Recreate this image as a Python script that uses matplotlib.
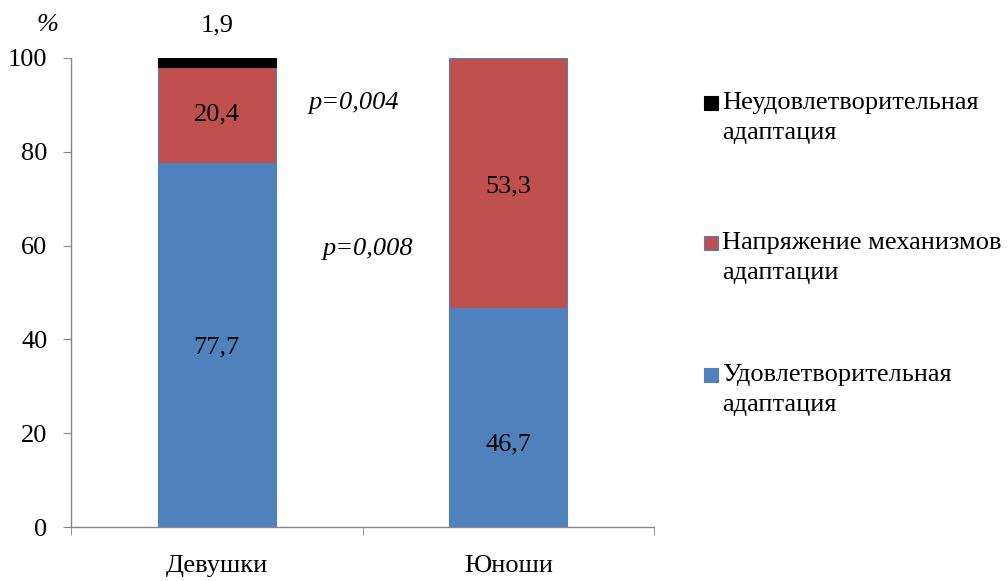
import matplotlib
matplotlib.use("Agg")
import matplotlib.pyplot as plt
from matplotlib.patches import Rectangle
import numpy as np

categories = ["Девушки", "Юноши"]
satisfactory = [77.7, 46.7]
tension = [20.4, 53.3]
unsatisfactory = [1.9, 0.0]
series_labels = [["Неудовлетворительная", "адаптация"],
                 ["Напряжение механизмов", "адаптации"],
                 ["Удовлетворительная", "адаптация"]]
yticks = [0, 20, 40, 60, 80, 100]

BLUE = "#4F81BD"
RED = "#C0504D"
BLACK = "#000000"
GRAY = "#868686"
FS = 19
plt.rcParams["font.family"] = ["Liberation Serif", "DejaVu Serif"]

W, H = 1008, 581
fig = plt.figure(figsize=(W / 100, H / 100), dpi=100)
ax = fig.add_axes([71 / W, 1 - 527 / H, (654 - 71) / W, (527 - 58) / H])

x = np.arange(len(categories))
bw = 0.405
ax.bar(x, satisfactory, bw, color=BLUE, edgecolor=BLUE, linewidth=0.8, zorder=2)
ax.bar(x, tension, bw, bottom=satisfactory, color=RED, edgecolor=BLUE, linewidth=0.8, zorder=2)
bottom3 = [a + b for a, b in zip(satisfactory, tension)]
ax.bar(x[:1], unsatisfactory[:1], bw, bottom=bottom3[:1], color=BLACK, edgecolor=BLACK,
       linewidth=0.8, zorder=2)

ax.set_xlim(-0.5, 1.5)
ax.set_ylim(0, 100)
for s in ["top", "right"]:
    ax.spines[s].set_visible(False)
for s in ["left", "bottom"]:
    ax.spines[s].set_color(GRAY)
    ax.spines[s].set_linewidth(1.0)

ax.set_yticks(yticks)
ax.set_yticklabels([str(v) for v in yticks], fontsize=FS)
ax.tick_params(axis="y", direction="out", length=6, color=GRAY, pad=11)
ax.set_xticks(x)
ax.set_xticklabels(categories, fontsize=FS)
ax.tick_params(axis="x", which="major", length=0, pad=20)
ax.set_xticks([-0.5, 0.5, 1.5], minor=True)
ax.tick_params(axis="x", which="minor", direction="out", length=6, color=GRAY)

# data labels
ax.text(x[0], satisfactory[0] / 2 - 0.6, "77,7", ha="center", va="center", fontsize=FS)
ax.text(x[0], satisfactory[0] + tension[0] / 2, "20,4", ha="center", va="center", fontsize=FS)
ax.text(x[0], 107, "1,9", ha="center", va="center", fontsize=FS, clip_on=False)
ax.text(x[1], satisfactory[1] + tension[1] / 2 - 0.8, "53,3", ha="center", va="center", fontsize=FS)
ax.text(x[1], 17.5, "46,7", ha="center", va="center", fontsize=FS)

ax.text(0.47, 90.5, "p=0,004", ha="center", va="center", fontsize=FS, style="italic")
ax.text(0.52, 59.3, "p=0,008", ha="center", va="center", fontsize=FS, style="italic")
fig.text(47 / W, 1 - 25 / H, "%", ha="center", va="center", fontsize=FS, style="italic")

# legend
entries = [(BLACK, BLACK), (RED, BLUE), (BLUE, BLUE)]
ys = [103, 243, 375]
for (fc, ec), lines, yp in zip(entries, series_labels, ys):
    fig.add_artist(Rectangle((704 / W, 1 - (yp + 7) / H), 14 / W, 14 / H,
                             facecolor=fc, edgecolor=ec, linewidth=0.8,
                             transform=fig.transFigure))
    for i, line in enumerate(lines):
        fig.text(722 / W, 1 - (yp + 30 * i) / H, line, ha="left", va="center", fontsize=FS)

fig.savefig("out.png", dpi=100)
